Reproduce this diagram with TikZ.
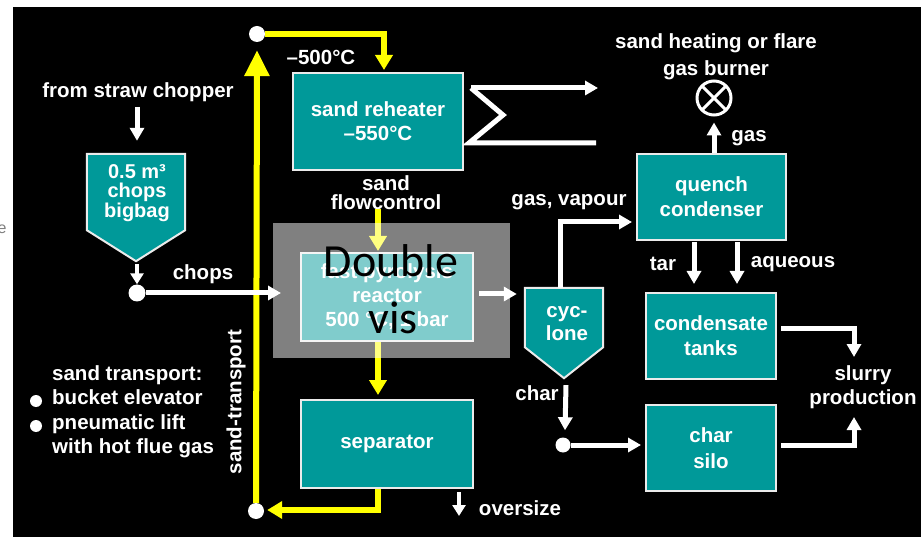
\documentclass[tikz,border=0pt]{standalone}
\usepackage{fontspec}
\setmainfont{Liberation Sans}
\newfontfamily\notefont{Carlito}
\usetikzlibrary{arrows.meta,calc}
\definecolor{tealbox}{RGB}{0,153,153}
\definecolor{sandyellow}{RGB}{255,255,0}
\newcommand{\lblfont}{\bfseries\fontsize{20.5}{24}\selectfont}

\begin{document}
\begin{tikzpicture}[x=1pt,y=-1pt,
  lbl/.style={text=white,font=\lblfont,inner sep=0pt,align=center},
  unit/.style={lbl,draw=white!92!black,line width=2pt,fill=tealbox},
  hopper/.style={lbl,minimum width=#1},
  dot/.style={circle,fill=white,inner sep=0pt,minimum size=#1},
  flow/.style={draw=white,line width=5pt,line join=miter,-{Triangle[width=14pt,length=13pt]}},
  smallflow/.style={draw=white,line width=4.5pt,-{Triangle[width=13pt,length=11pt]}},
  sandflow/.style={draw=sandyellow,line width=6pt,line join=miter,-{Triangle[width=17pt,length=15pt]}},
  liftflow/.style={draw=sandyellow,line width=6pt,-{Triangle[width=24pt,length=26pt]}}]

% page and dark panel
\useasboundingbox (0,0) rectangle (921,537);
\fill[white] (0,0) rectangle (921,537);
\fill[black] (13,7) rectangle (921,537);
\node[text=gray,font=\fontsize{16}{18}\selectfont,inner sep=0pt] (edgeletter) at (2,229) {e};

% process units
\node[unit,minimum width=170,minimum height=97] (reheater) at (378,121.5) {sand reheater\\–550°C};
\node[unit,minimum width=172,minimum height=88] (reactor) at (387,297) {fast pyrolysis\\reactor\\500 °C, 1 bar};
\node[unit,minimum width=172,minimum height=88] (separator) at (387,444) {separator};
\node[unit,minimum width=149,minimum height=86,font=\bfseries\fontsize{20.5}{25}\selectfont] (quench) at (711.5,197) {quench\\condenser};
\node[unit,minimum width=130,minimum height=86,font=\bfseries\fontsize{20.5}{25}\selectfont] (condensate) at (711,336) {condensate\\tanks};
\node[unit,minimum width=130,minimum height=86,font=\bfseries\fontsize{20.5}{26}\selectfont] (silo) at (711,448) {char\\silo};

% hopper-shaped units
\node[hopper=98,minimum height=76] (bigbag) at (136,192) {};
\coordinate (bbtip) at ($(bigbag.south)+(0,31)$);
\filldraw[fill=tealbox,draw=white!92!black,line width=2pt,line join=miter]
  (bigbag.north west) -- (bigbag.north east) -- (bigbag.south east) -- (bbtip) -- (bigbag.south west) -- cycle;
\node[lbl,font=\bfseries\fontsize{20}{19.5}\selectfont] (bigbagtext) at (137,193) {0.5 m³\\chops\\bigbag};

\node[hopper=78,minimum height=59] (cyclone) at (564,317.5) {};
\coordinate (cyctip) at ($(cyclone.south)+(0,31)$);
\filldraw[fill=tealbox,draw=white!92!black,line width=2pt,line join=miter]
  (cyclone.north west) -- (cyclone.north east) -- (cyclone.south east) -- (cyctip) -- (cyclone.south west) -- cycle;
\node[lbl,font=\bfseries\fontsize{20.5}{23}\selectfont] (cyclonetext) at (567,324) {cyc-\\lone};

% junction dots
\node[dot=16pt] (liftTop) at (257,34) {};
\node[dot=16pt] (liftFoot) at (256,511) {};
\node[dot=17pt] (chopsJoin) at (137,293) {};
\node[dot=15pt] (charJoin) at (563,445) {};

% gas burner
\node[circle,draw=white,line width=3pt,minimum size=34pt,inner sep=0pt,
  path picture={\draw[white,line width=3pt]
    (path picture bounding box.north west) -- (path picture bounding box.south east)
    (path picture bounding box.south west) -- (path picture bounding box.north east);}] (burner) at (714,98) {};

% labels
\node[lbl] (fromlbl) at (138,92) {from straw chopper};
\node[lbl] (chopslbl) at (203,274) {chops};
\node[lbl] (t500) at (321,57) {–500°C};
\node[lbl,font=\bfseries\fontsize{20.5}{19}\selectfont] (flowlbl) at (386,193) {sand\\flowcontrol};
\node[lbl] (gvlbl) at (569,202) {gas, vapour};
\node[lbl,font=\bfseries\fontsize{20.5}{27}\selectfont] (burnerlbl) at (716,57) {sand heating or flare\\gas burner};
\node[lbl] (gaslbl) at (749,138) {gas};
\node[lbl] (tarlbl) at (663,264) {tar};
\node[lbl] (aqlbl) at (793,264) {aqueous};
\node[lbl] (charlbl) at (537,393) {char};
\node[lbl] (slurrylbl) at (863,387) {slurry\\production};
\node[lbl] (oversizelbl) at (520,508) {oversize};
\node[lbl,rotate=90] (translbl) at (236,402) {sand-transport};

\node[lbl,anchor=mid west] (tr1) at (52,378) {sand transport:};
\node[lbl,anchor=mid west] (tr2) at (52,402) {bucket elevator};
\node[lbl,anchor=mid west] (tr3) at (52,427) {pneumatic lift};
\node[lbl,anchor=mid west] (tr4) at (52,451) {with hot flue gas};
\node[dot=12pt] (bul1) at (36,401) {};
\node[dot=12pt] (bul2) at (36,426) {};

% sand loop (yellow)
\draw[liftflow] (liftFoot.north) -- ($(liftTop.south)+(0,8)$);
\draw[sandflow] (liftTop.east) -| ($(reheater.north)+(6,-2)$);
\draw[sandflow] ($(reactor.north)+(-9,-43)$) -- ($(reactor.north)+(-9,-1)$);
\draw[sandflow] ($(reactor.south)+(-9,0)$) -- ($(separator.north)+(-9,-4)$);
\draw[sandflow] ($(separator.south)+(-9,0)$) |- ($(liftFoot.east)+(3,-1)$);

% heat exchanger of the reheater
\draw[white,line width=5pt,line join=miter]
  ($(reheater.east)+(7,-33.5)$) -- ($(reheater.east)+(39,-6.5)$) -- ($(reheater.east)+(5,21.5)$) -- ($(reheater.east)+(132,21.5)$);
\draw[flow] ($(reheater.east)+(7,-33.5)$) -- ($(reheater.east)+(134,-33.5)$);

% material flows (white)
\draw[flow] ($(bigbag.north)+(1,-47)$) -- ($(bigbag.north)+(1,-13)$);
\draw[smallflow] ($(bbtip)+(1,3)$) -- (chopsJoin.north);
\draw[flow] (chopsJoin.east) -- ($(reactor.west |- chopsJoin)+(-19,0)$);
\draw[flow] ($(reactor.east)+(5,-3)$) -- ($(cyclone.west)+(-8,-23.5)$);
\draw[flow] ($(cyclone.north)+(-4,0)$) |- ($(quench.west)+(-4,25)$);
\draw[flow] (quench.north -| burner) -- ($(burner.south)+(0,6)$);
\draw[flow] ($(quench.south)+(-17.5,1)$) -- ($(condensate.north)+(-17,-8)$);
\draw[flow] ($(quench.south)+(25.5,1)$) -- ($(condensate.north)+(26,-8)$);
\draw[flow] ($(condensate.east)+(4,-7)$) -| ($(condensate.east)+(77,21)$);
\draw[flow] ($(silo.east)+(4,-3)$) -| ($(silo.east)+(77,-31)$);
\draw[flow] ($(cyctip)+(2,7)$) -- ($(charJoin.north)+(2,-7)$);
\draw[flow] (charJoin.east) -- ($(silo.west |- charJoin)+(-4,0)$);
\draw[smallflow] ($(separator.south)+(72,3)$) -- ($(separator.south)+(72,27)$);

% translucent note over the reactor
\node[fill=white,fill opacity=0.5,minimum width=237,minimum height=135,inner sep=0pt] (veil) at (391.5,290.5) {};
\node[font=\notefont\fontsize{46}{57}\selectfont,inner sep=0pt,anchor=base] (notetop) at (391,277) {Double};
\node[font=\notefont\fontsize{46}{57}\selectfont,inner sep=0pt,anchor=base] (notebottom) at (393,334) {vis};
\end{tikzpicture}
\end{document}
